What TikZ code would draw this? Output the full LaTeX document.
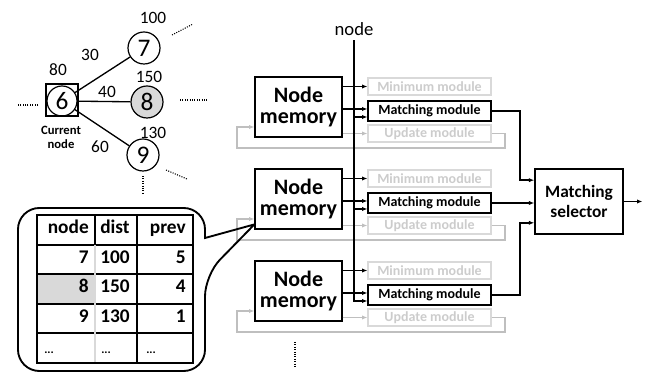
\documentclass[tikz,border=0pt]{standalone}
\usepackage{fontspec}
\setmainfont{Carlito}
\usetikzlibrary{arrows.meta}
\definecolor{offline}{HTML}{BFBFBF}
\definecolor{offtext}{HTML}{CCCCCC}
\definecolor{cellgray}{HTML}{D9D9D9}
\tikzset{
  vertex/.style   = {circle, draw, line width=0.9pt, minimum size=24pt, inner sep=0pt,
                     font=\fontsize{19}{19}\selectfont},
  curbox/.style   = {rectangle, draw, line width=0.9pt, minimum size=24pt},
  weight/.style   = {font=\fontsize{13}{13}\selectfont},
  memory/.style   = {rectangle, draw, line width=1.1pt, align=center,
                     minimum width=65pt, minimum height=45pt,
                     font=\bfseries\fontsize{16.5}{15.5}\selectfont},
  module/.style   = {rectangle, draw, line width=1.1pt, inner sep=0pt,
                     minimum width=92pt, minimum height=15pt,
                     font=\bfseries\fontsize{10.5}{10.5}\selectfont},
  modoff/.style   = {module, draw=cellgray, text=offtext, minimum height=12.75pt},
  selector/.style = {memory, minimum width=66pt, minimum height=49pt,
                     font=\bfseries\fontsize{13}{15}\selectfont},
  arr/.style      = {-{Latex[length=4pt,width=3.2pt]}, line width=0.8pt},
  arroff/.style   = {arr, draw=offline},
  outline/.style  = {line width=1.4pt},
  stub/.style     = {densely dotted, line width=0.8pt},
  cell/.style     = {inner sep=0pt, text height=1.5ex, text depth=0.25ex,
                     font=\bfseries\fontsize{14.5}{14.5}\selectfont}
}

\begin{document}
\begin{tikzpicture}[x=0.75pt, y=-0.75pt]
  \useasboundingbox (0,0) rectangle (653,373);

  % graph around the current node
  \node[curbox] (cur) at (62,100) {};
  \node[vertex, minimum size=22.5pt] (n6) at (62,101) {6};
  \node[vertex] (n7) at (144,48) {7};
  \node[vertex, fill=cellgray] (n8) at (147,102) {8};
  \node[vertex] (n9) at (143,155) {9};
  \draw[line width=1pt] (n6) -- (n7);
  \draw[line width=1pt] (n6) -- (n8);
  \draw[line width=1pt] (n6) -- (n9);

  \node[weight] (d6) at (58,70) {80};
  \node[weight] (d7) at (153,18) {100};
  \node[weight] (d8) at (149,77) {150};
  \node[weight] (d9) at (153,133) {130};
  \node[weight] (w7) at (90,55) {30};
  \node[weight] (w8) at (107,92) {40};
  \node[weight] (w9) at (100,147) {60};
  \node[align=center, font=\bfseries\fontsize{9.5}{10.5}\selectfont] (curlbl) at (61,137) {Current\\node};

  \draw[stub] (n6) ++(-24,4) -- ++(-21,0);
  \draw[stub] (n7) ++(28,-13) -- ++(21,-11);
  \draw[stub] (n8) ++(33,-2) -- ++(27,0);
  \draw[stub] (n9) ++(23,15) -- ++(21,9);
  \draw[stub] (n9) ++(0,21) -- ++(0,17);

  % node memories and modules
  \node[font=\fontsize{14}{14}\selectfont] (bus) at (354,29) {node};

  \node[memory] (mem1) at (298.5,107) {Node\\memory};
  \node[modoff] (min1) at (429.5,86.5) {Minimum module};
  \node[module] (match1) at (429.5,111) {Matching module};
  \node[modoff] (upd1) at (429.5,133.5) {Update module};

  \node[memory] (mem2) at (298.5,199) {Node\\memory};
  \node[modoff] (min2) at (429.5,178.5) {Minimum module};
  \node[module] (match2) at (429.5,203) {Matching module};
  \node[modoff] (upd2) at (429.5,225.5) {Update module};

  \node[memory] (mem3) at (298.5,291) {Node\\memory};
  \node[modoff] (min3) at (429.5,270.5) {Minimum module};
  \node[module] (match3) at (429.5,295) {Matching module};
  \node[modoff] (upd3) at (429.5,317.5) {Update module};

  \node[selector] (sel) at (579,201.5) {Matching\\selector};

  \coordinate (br1) at ([yshift=-4.5pt]match1.west);
  \coordinate (br2) at ([yshift=-4.5pt]match2.west);
  \coordinate (br3) at ([yshift=-4.5pt]match3.west);
  \coordinate (in1) at ([yshift=16pt]sel.west);
  \coordinate (in3) at ([yshift=-16pt]sel.west);
  \coordinate (out) at ([xshift=14pt]sel.east);
  \coordinate (tip) at ([yshift=4pt]mem2.south west);

  \draw[arr] (mem1.east |- min1.west) -- (min1.west);
  \draw[arr] ([yshift=-1.5pt]mem1.east) -- ([yshift=1.5pt]match1.west);
  \draw[arroff] (mem1.east |- upd1.west) -- (upd1.west);
  \draw[arroff] (upd1.east) -| (505,148) -| (237,127) -- ([yshift=-15pt]mem1.west);

  \draw[arr] (mem2.east |- min2.west) -- (min2.west);
  \draw[arr] ([yshift=-1.5pt]mem2.east) -- ([yshift=1.5pt]match2.west);
  \draw[arroff] (mem2.east |- upd2.west) -- (upd2.west);
  \draw[arroff] (upd2.east) -| (505,240) -| (237,219) -- ([yshift=-15pt]mem2.west);

  \draw[arr] (mem3.east |- min3.west) -- (min3.west);
  \draw[arr] ([yshift=-1.5pt]mem3.east) -- ([yshift=1.5pt]match3.west);
  \draw[arroff] (mem3.east |- upd3.west) -- (upd3.west);
  \draw[arroff] (upd3.east) -| (505,332) -| (237,311) -- ([yshift=-15pt]mem3.west);

  \draw[arr, line width=1.8pt] (bus.south) |- (br3);
  \draw[arr, outline] (bus.south |- br1) -- (br1);
  \draw[arr, outline] (bus.south |- br2) -- (br2);

  \draw[arr, outline] (match1.east) -| ([xshift=-11pt]in1) -- (in1);
  \draw[arr, outline] (match2.east) -- (sel.west |- match2.east);
  \draw[arr, outline] (match3.east) -| ([xshift=-11pt]in3) -- (in3);
  \draw[arr, outline] (sel.east) -- (out);

  \draw[stub] (mem3) ++(-3.5,51) -- ++(0,26);

  % table callout
  \draw[outline] (tip) -- (205,238) [rounded corners=16pt] -- (205,208) -- (18,208)
    -- (18,371) -- (205,371) -- (205,275) [sharp corners] -- (tip);

  \fill[cellgray] (37,274) rectangle (95,304);
  \draw[line width=1.1pt] (37,245) -- (193,245);
  \draw[line width=1.1pt] (37,274) -- (193,274);
  \draw[line width=1.1pt] (37,304) -- (193,304);
  \draw[line width=1.1pt] (37,333) -- (193,333);
  \draw[line width=1.1pt] (95,215) -- (95,245);
  \draw[line width=0.8pt, cellgray] (95,245) -- (95,363);
  \draw[line width=1.5pt] (137,215) -- (137,363);
  \draw[line width=1.5pt] (37,215) rectangle (193,363);

  \node[cell, anchor=east] (h1) at (89,230) {node};
  \node[cell, anchor=west] (h2) at (100,230) {dist};
  \node[cell, anchor=east] (h3) at (186,230) {prev};
  \node[cell, anchor=east] (a1) at (89,259.5) {7};
  \node[cell, anchor=west] (a2) at (100,259.5) {100};
  \node[cell, anchor=east] (a3) at (186,259.5) {5};
  \node[cell, anchor=east] (b1) at (89,289) {8};
  \node[cell, anchor=west] (b2) at (100,289) {150};
  \node[cell, anchor=east] (b3) at (186,289) {4};
  \node[cell, anchor=east] (c1) at (89,318.5) {9};
  \node[cell, anchor=west] (c2) at (100,318.5) {130};
  \node[cell, anchor=east] (c3) at (186,318.5) {1};
  \node[cell, anchor=west, font=\bfseries\fontsize{9}{9}\selectfont] (e1) at (44,350) {...};
  \node[cell, anchor=west, font=\bfseries\fontsize{9}{9}\selectfont] (e2) at (101,350) {...};
  \node[cell, anchor=west, font=\bfseries\fontsize{9}{9}\selectfont] (e3) at (146,350) {...};
\end{tikzpicture}
\end{document}
